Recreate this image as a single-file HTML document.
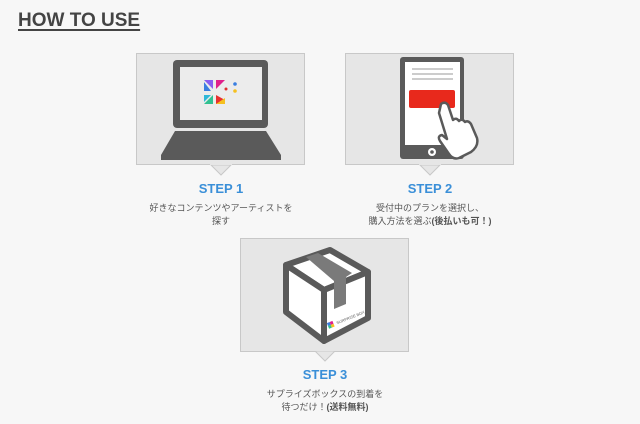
<!DOCTYPE html>
<html><head><meta charset="utf-8"><style>
body{margin:0;width:640px;height:424px;background:#f7f7f7;font-family:"Liberation Sans","Noto Sans CJK JP",sans-serif;position:relative;overflow:hidden}
.t{position:absolute;left:18px;top:10px;font-size:19px;font-weight:bold;color:#444;text-decoration:underline;text-decoration-thickness:2px;text-underline-offset:3px;letter-spacing:0px}
.box{position:absolute;width:169px;height:112px;background:#e6e6e6;border:1px solid #c8c8c8;box-sizing:border-box}
.step{position:absolute;width:200px;text-align:center;color:#3a8fd8;font-size:13px;font-weight:bold}
.d{position:absolute;width:220px;text-align:center;color:#555;font-size:9px;line-height:13px}
</style></head><body>
<div class="t">HOW TO USE</div>
<div class="box" style="left:136px;top:53px"></div>
<div class="box" style="left:345px;top:53px"></div>
<div class="box" style="left:240px;top:238px;height:114px"></div>
<svg width="640" height="424" style="position:absolute;left:0;top:0">
<g fill="#e6e6e6" stroke="#c8c8c8">
<polygon points="211,165 221,175 231,165"/><polygon points="420,165 430,175 440,165"/><polygon points="315,351 325,361 335,351"/>
</g>
<g fill="#e6e6e6"><rect x="210" y="163" width="22" height="2"/><rect x="419" y="163" width="22" height="2"/><rect x="314" y="349" width="22" height="2"/></g>
<!-- laptop -->
<rect x="173" y="60" width="95" height="68" rx="4" fill="#5a5a5a"/>
<rect x="180" y="67" width="82" height="53" fill="#ececec"/>
<polygon points="175,131 266,131 281,155 281,160 161,160 161,155" fill="#5a5a5a"/>
<g>
<polygon points="204,80 213,80 213,89" fill="#8a5cf0"/><polygon points="204,82 204,91 211,91" fill="#3a7ee0"/>
<polygon points="216,80 225,80 216,89" fill="#e0208c"/><circle cx="226" cy="89" r="1.5" fill="#e03030"/>
<polygon points="204,95 211,95 204,102" fill="#2fb8d8"/><polygon points="204,104 213,95 213,104" fill="#30c090"/>
<polygon points="216,95 225,100 216,104" fill="#e83030"/><polygon points="216,104 225,104 225,98" fill="#f5c020"/>
<circle cx="235" cy="84" r="1.8" fill="#3a7ee0"/><circle cx="235" cy="91" r="1.8" fill="#f5c020"/>
</g>
<!-- tablet -->
<rect x="400" y="57" width="64" height="102" rx="3" fill="#5a5a5a"/>
<rect x="405" y="62" width="55" height="83" fill="#fff"/>
<g stroke="#999" stroke-width="1"><line x1="412" y1="69" x2="453" y2="69"/><line x1="412" y1="74" x2="453" y2="74"/><line x1="412" y1="79" x2="453" y2="79"/></g>
<rect x="409" y="90" width="46" height="18" rx="2" fill="#e8291c"/>
<circle cx="432" cy="152" r="4" fill="#fff"/><circle cx="432" cy="152" r="1.8" fill="#5a5a5a"/>
<path d="M441,104 q4,-3 7,1 l5,15 q3,-3 6,1 q3,-3 6,1 q3,-2 6,2 l6,14 q2,8 -6,14 l-12,6 q-6,2 -10,-4 l-9,-13 q-3,-5 2,-6 l5,4 l-8,-26 z" fill="#fff" stroke="#5a5a5a" stroke-width="2.5" stroke-linejoin="round"/>
<!-- box -->
<g stroke="#5a5a5a" stroke-width="6" stroke-linejoin="round" fill="#fff">
<polygon points="286,265 330,250 368,272 324,290"/>
<polygon points="286,265 324,290 324,341 286,312"/>
<polygon points="324,290 368,272 368,318 324,341"/>
</g>
<polygon points="306,257 318,253 352,273 346,277 346,304 334,309 334,281" fill="#7a7a7a"/>
<g transform="rotate(-22 333 325)">
<rect x="328" y="321" width="3" height="3" fill="#3a7ee0"/><rect x="331" y="321" width="3" height="3" fill="#e0208c"/>
<rect x="328" y="324" width="3" height="3" fill="#30c090"/><rect x="331" y="324" width="3" height="3" fill="#f5c020"/>
<text x="337" y="326" font-size="4" fill="#666">SURPRISE BOX</text>
</g>
</svg>
<div class="step" style="left:121px;top:181px">STEP 1</div>
<div class="d" style="left:111px;top:202px">好きなコンテンツやアーティストを<br>探す</div>
<div class="step" style="left:330px;top:181px">STEP 2</div>
<div class="d" style="left:320px;top:202px">受付中のプランを選択し、<br>購入方法を選ぶ<b>(後払いも可！)</b></div>
<div class="step" style="left:225px;top:367px">STEP 3</div>
<div class="d" style="left:215px;top:388px">サプライズボックスの到着を<br>待つだけ！<b>(送料無料)</b></div>
</body></html>
